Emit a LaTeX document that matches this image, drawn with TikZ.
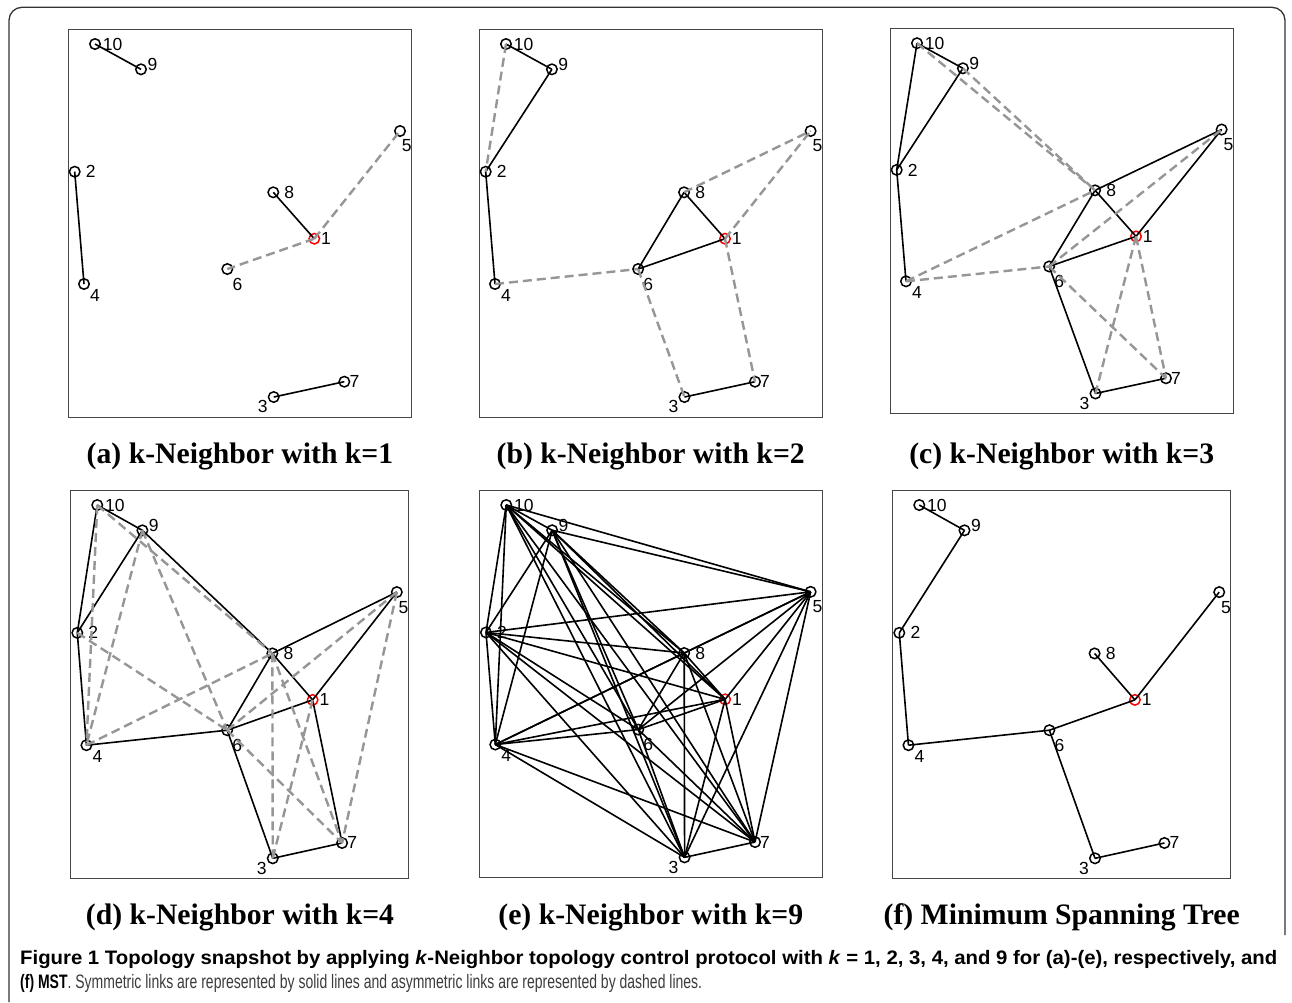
\documentclass[tikz,border=0pt]{standalone}
\usepackage{fontspec}
\usepackage{graphicx}
\setmainfont{Liberation Serif}
\newfontfamily\labfont{Liberation Sans}
\newfontfamily\capfont{Liberation Sans}
\definecolor{dgray}{RGB}{150,150,150}
\definecolor{boxc}{RGB}{70,70,70}
\definecolor{captxt}{RGB}{60,60,60}
% #1 prefix, #2 x0, #3 y0, #4 width, #5 height
\newcommand\kpanel[5]{%
  \draw[boxst] (#2,#3) rectangle ++(#4,#5);
  \foreach \n/\u/\v/\c/\dx/\dy/\an in {%
    1/0.7166/0.5405/red/6.7/0/west,
    2/0.0195/0.3678/black/11/0/west,
    3/0.5985/0.9485/black/-6/9.7/east,
    4/0.0466/0.6572/black/6/11.3/west,
    5/0.9660/0.2629/black/1.7/15/west,
    6/0.4635/0.6186/black/5/15/west,
    7/0.8039/0.9090/black/5/0/west,
    8/0.5973/0.4209/black/11/0/west,
    9/0.2124/0.1039/black/6.3/-5/west,
    10/0.0786/0.0387/black/7.7/0/west}{%
    \node[pt=\c] (#1\n) at ({#2+\u*#4},{#3+\v*#5}) {};
    \node[lab,anchor=\an] (#1\n-l) at ({#2+\u*#4+\dx},{#3+\v*#5+\dy}) {\n};
  }%
}
\newcommand\kedges[3]{%
  \foreach \p/\q in {#3}{\draw[#2] (#1\p.center) -- (#1\q.center);}%
}
\begin{document}
\begin{tikzpicture}[x=1pt,y=-1pt,
  pt/.style={circle,draw=#1,line width=1.5pt,minimum size=10.5pt,inner sep=0pt},
  pt/.default=black,
  lab/.style={font=\labfont\fontsize{17.5}{19}\selectfont,inner sep=0pt},
  sym/.style={line width=1.6pt,black},
  asym/.style={line width=2.4pt,dgray,dash pattern=on 9pt off 5pt},
  boxst/.style={draw=boxc,line width=1pt},
  subcap/.style={font=\fontsize{29.7}{34}\selectfont\bfseries,anchor=base,inner sep=0pt},
  frame/.style={draw=black!80,line width=1.3pt,rounded corners=13pt}]
\useasboundingbox (0,0) rectangle (1292,1002);
\fill[white] (0,0) rectangle (1292,1002);
\draw[frame] (9,1002) -- (9,7.3) -- (1285,7.3) -- (1285,935);

% (a)
\kpanel{a}{68}{29}{343.7}{388}
\kedges{a}{sym}{10/9,2/4,8/1,3/7}
\kedges{a}{asym}{1/5,1/6}
% (b)
\kpanel{b}{479}{29}{343.3}{388}
\kedges{b}{sym}{10/9,9/2,2/4,8/1,8/6,6/1,3/7}
\kedges{b}{asym}{10/2,8/5,1/5,4/6,6/3,1/7}
% (c)
\kpanel{c}{890}{28.3}{343.3}{385}
\kedges{c}{sym}{10/9,10/2,9/2,2/4,8/5,8/1,8/6,6/1,1/5,6/3,3/7}
\kedges{c}{asym}{10/8,9/8,4/8,4/6,6/5,6/7,1/3,1/7}
% (d)
\kpanel{d}{70.7}{490}{337.6}{388.3}
\kedges{d}{sym}{10/9,10/2,9/2,2/4,9/8,8/5,8/1,8/6,6/1,1/5,4/6,6/3,3/7,1/7}
\kedges{d}{asym}{10/4,10/8,9/4,9/6,2/6,4/8,6/5,8/3,8/7,1/3,6/7,5/7}
% (e)
\kpanel{e}{479.3}{490}{343}{387.3}
\foreach \p in {1,...,10}{\foreach \q in {1,...,10}{%
  \ifnum\p<\q \draw[sym] (e\p.center) -- (e\q.center);\fi}}
% (f)
\kpanel{f}{892.7}{490}{338}{388.3}
\kedges{f}{sym}{10/9,9/2,2/4,4/6,6/1,8/1,1/5,6/3,3/7}

% sub-captions
\node[subcap] (capa) at (240,463.5) {(a) k-Neighbor with k=1};
\node[subcap] (capb) at (650.7,463.5) {(b) k-Neighbor with k=2};
\node[subcap] (capc) at (1061.7,463.5) {(c) k-Neighbor with k=3};
\node[subcap] (capd) at (240,924.5) {(d) k-Neighbor with k=4};
\node[subcap] (cape) at (650.8,924.5) {(e) k-Neighbor with k=9};
\node[subcap] (capf) at (1061.7,924.5) {(f) Minimum Spanning Tree};

% figure caption
\node[anchor=base west,inner sep=0pt] (fig1) at (20,964) {\resizebox{1257pt}{\height}{\capfont\fontsize{19.5}{23}\selectfont\bfseries Figure 1 Topology snapshot by applying \textit{k}-Neighbor topology control protocol with \textit{k} = 1, 2, 3, 4, and 9 for (a)-(e), respectively, and}};
\node[anchor=base west,inner sep=0pt] (fig2) at (20,988) {\resizebox{682pt}{\height}{\capfont\fontsize{19.5}{23}\selectfont\textbf{(f) MST}\textcolor{captxt}{. Symmetric links are represented by solid lines and asymmetric links are represented by dashed lines.}}};
\end{tikzpicture}
\end{document}
